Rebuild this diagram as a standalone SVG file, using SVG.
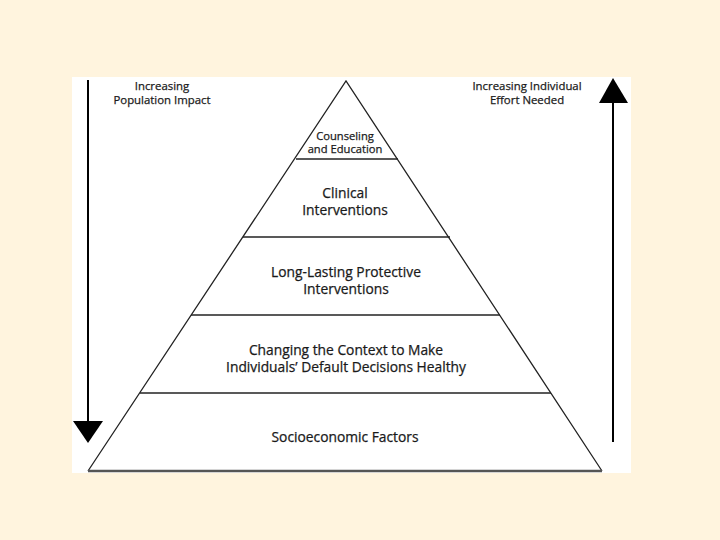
<svg xmlns="http://www.w3.org/2000/svg" width="720" height="540" viewBox="0 0 720 540">
<style>
text{font-family:"Open Sans","Noto Sans","Liberation Sans",sans-serif;fill:#1a1a1a;stroke:#1a1a1a;stroke-width:0.25;text-anchor:middle}
.lbl{font-size:11.4px}
.tier{font-size:13.8px}
.small{font-size:11.2px}
.edge{stroke:#222;stroke-width:1.3;fill:none}
</style>
<rect width="720" height="540" fill="#FFF4DE"/>
<rect x="72" y="77" width="559" height="396" fill="#FFFFFF"/>
<g id="connectors">
<line x1="88" y1="80" x2="88" y2="422" stroke="#000" stroke-width="2"/>
<polygon points="73,421 103,421 88,443" fill="#000"/>
<line x1="613" y1="102" x2="613" y2="442" stroke="#000" stroke-width="2"/>
<polygon points="599,103 628,103 613,78" fill="#000"/>
</g>
<g id="pyramid">
<polyline class="edge" points="88,471 346,81 602,471"/>
<line x1="88" y1="471" x2="602" y2="471" stroke="#555" stroke-width="2.5"/>
<line x1="296" y1="159" x2="398" y2="159" stroke="#222" stroke-width="1.3"/>
<line x1="243" y1="237" x2="450" y2="237" stroke="#222" stroke-width="1.3"/>
<line x1="191" y1="315" x2="500" y2="315" stroke="#222" stroke-width="1.3"/>
<line x1="140" y1="393" x2="551" y2="393" stroke="#222" stroke-width="1.3"/>
</g>
<g id="label-population">
<text class="lbl" x="162" y="90">Increasing</text>
<text class="lbl" x="162" y="103.5">Population Impact</text>
</g>
<g id="label-effort">
<text class="lbl" x="527" y="90">Increasing Individual</text>
<text class="lbl" x="527" y="103.5">Effort Needed</text>
</g>
<g id="tier-counseling">
<text class="small" x="345" y="139.5">Counseling</text>
<text class="small" x="345" y="152.5">and Education</text>
</g>
<g id="tier-clinical">
<text class="tier" x="345" y="198">Clinical</text>
<text class="tier" x="345" y="215">Interventions</text>
</g>
<g id="tier-protective">
<text class="tier" x="346" y="277">Long-Lasting Protective</text>
<text class="tier" x="346" y="293.5">Interventions</text>
</g>
<g id="tier-context">
<text class="tier" x="346" y="355">Changing the Context to Make</text>
<text class="tier" x="346" y="372">Individuals’ Default Decisions Healthy</text>
</g>
<g id="tier-socioeconomic">
<text class="tier" x="345" y="442">Socioeconomic Factors</text>
</g>
</svg>
